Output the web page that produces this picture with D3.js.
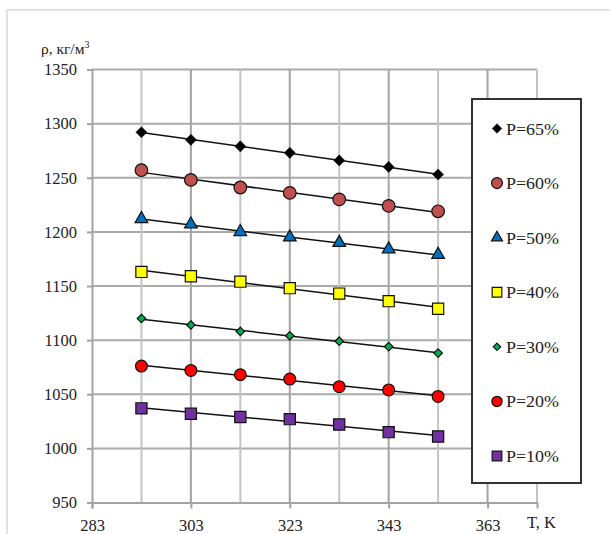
<!DOCTYPE html>
<html>
<head>
<meta charset="utf-8">
<script src="https://cdn.jsdelivr.net/npm/d3@7"></script>
<style>
  html, body { margin: 0; padding: 0; background: #fff; }
  svg { display: block; }
</style>
</head>
<body>
<svg id="chart" width="610" height="534"></svg>
<script>
// Temperature, K
const temperatures = [293, 303, 313, 323, 333, 343, 353];

// Density, kg/m3, per concentration series
const p65 = [1292, 1285, 1279, 1273, 1266, 1260, 1253];
const p60 = [1257, 1248, 1241, 1236, 1230, 1224, 1219];
const p50 = [1212, 1207, 1200, 1195, 1190, 1184, 1179];
const p40 = [1163, 1159, 1154, 1148, 1143, 1136, 1129];
const p30 = [1120, 1114, 1108, 1104, 1099, 1094, 1088];
const p20 = [1076, 1072, 1068, 1064, 1057, 1054, 1048];
const p10 = [1037, 1032, 1029, 1027, 1022, 1015, 1011];

const seriesNames = ["P=65%", "P=60%", "P=50%", "P=40%", "P=30%", "P=20%", "P=10%"];

const xTicks = [283, 303, 323, 343, 363];
const xGrid = [293, 303, 313, 323, 333, 343, 353, 363, 373];
const yTicks = [950, 1000, 1050, 1100, 1150, 1200, 1250, 1300, 1350];

const SERIF = "'Liberation Serif', 'DejaVu Serif', 'Times New Roman', serif";

// rotated square gives an even diamond
const diamond = { draw(ctx, size) { const r = Math.sqrt(size) / 2 * Math.SQRT2;
  ctx.moveTo(0, -r); ctx.lineTo(r, 0); ctx.lineTo(0, r); ctx.lineTo(-r, 0); ctx.closePath(); } };

const series = [
  { name: seriesNames[0], values: p65, shape: diamond,          size: 62,  fill: "#000000" },
  { name: seriesNames[1], values: p60, shape: d3.symbolCircle,  size: 125, fill: "#c0504d" },
  { name: seriesNames[2], values: p50, shape: d3.symbolTriangle,size: 70,  fill: "#0070c0" },
  { name: seriesNames[3], values: p40, shape: d3.symbolSquare,  size: 125, fill: "#ffff00" },
  { name: seriesNames[4], values: p30, shape: diamond,          size: 36,  fill: "#00b050" },
  { name: seriesNames[5], values: p20, shape: d3.symbolCircle,  size: 110, fill: "#ff0000" },
  { name: seriesNames[6], values: p10, shape: d3.symbolSquare,  size: 125, fill: "#7030a0" }
];

const svg = d3.select("#chart").style("font-family", SERIF);

// outer frame of the drawing
svg.append("path")
  .attr("d", "M7,534 V10 H610")
  .attr("fill", "none")
  .attr("stroke", "#d9d9d9")
  .attr("stroke-width", 1.5);

const x = d3.scaleLinear().domain([283, 373]).range([92, 537]);
const y = d3.scaleLinear().domain([950, 1350]).range([502.5, 69.5]);

// horizontal grid
svg.append("g").selectAll("line").data(yTicks.slice(1)).join("line")
  .attr("x1", x(283)).attr("x2", x(373))
  .attr("y1", d => y(d)).attr("y2", d => y(d))
  .attr("stroke", "#aaaaaa").attr("stroke-width", 2);

// vertical grid
svg.append("g").selectAll("line").data(xGrid).join("line")
  .attr("x1", d => x(d)).attr("x2", d => x(d))
  .attr("y1", y(1350)).attr("y2", y(950))
  .attr("stroke", d => xTicks.includes(d) ? "#a3a3a3" : "#c4c4c4")
  .attr("stroke-width", 2);

function styleText(sel, size) {
  sel.style("font-family", SERIF).style("font-size", size + "px").attr("fill", "#222");
}

// y axis
const yAxis = svg.append("g")
  .attr("transform", `translate(${x(283)},0)`)
  .call(d3.axisLeft(y).tickValues(yTicks).tickSize(5).tickPadding(10).tickFormat(d3.format("d")));
yAxis.select(".domain").attr("stroke", "#a3a3a3").attr("stroke-width", 2);
yAxis.selectAll(".tick line").attr("stroke", "#a3a3a3").attr("stroke-width", 2);
styleText(yAxis.selectAll("text"), 16.5);

// x axis
const xAxis = svg.append("g")
  .attr("transform", `translate(0,${y(950)})`)
  .call(d3.axisBottom(x).tickValues(xTicks).tickSize(6).tickPadding(11).tickFormat(d3.format("d")));
xAxis.select(".domain").attr("stroke", "#a3a3a3").attr("stroke-width", 2);
xAxis.selectAll(".tick line").attr("stroke", "#a3a3a3").attr("stroke-width", 2);
styleText(xAxis.selectAll("text"), 16.5);

// axis titles
const yTitle = svg.append("text").attr("x", 41).attr("y", 54);
styleText(yTitle, 15.5);
yTitle.append("tspan").text("ρ, кг/м");
yTitle.append("tspan").style("font-size", "10px").attr("dy", -6).text("3");

const xTitle = svg.append("text").attr("x", 527).attr("y", 528).text("T, K");
styleText(xTitle, 16.5);

// least-squares trend line for each series
function trend(xs, ys) {
  const mx = d3.mean(xs), my = d3.mean(ys);
  let sxy = 0, sxx = 0;
  xs.forEach((xv, i) => { sxy += (xv - mx) * (ys[i] - my); sxx += (xv - mx) ** 2; });
  const b = sxy / sxx, a = my - b * mx;
  return t => a + b * t;
}

const plot = svg.append("g");
series.forEach(s => {
  const f = trend(temperatures, s.values);
  const t0 = temperatures[0], t1 = temperatures[temperatures.length - 1];
  plot.append("line")
    .attr("x1", x(t0)).attr("y1", y(f(t0)))
    .attr("x2", x(t1)).attr("y2", y(f(t1)))
    .attr("stroke", "#111").attr("stroke-width", 1.5);
});

series.forEach(s => {
  plot.append("g").selectAll("path").data(s.values).join("path")
    .attr("d", d3.symbol().type(s.shape).size(s.size))
    .attr("transform", (d, i) => `translate(${x(temperatures[i])},${y(d)})`)
    .attr("fill", s.fill)
    .attr("stroke", "#111")
    .attr("stroke-width", s.fill === "#000000" ? 0.5 : 1.2);
});

// legend
const legend = svg.append("g");
legend.append("rect")
  .attr("x", 472).attr("y", 99)
  .attr("width", 109).attr("height", 384)
  .attr("fill", "#fff")
  .attr("stroke", "#333").attr("stroke-width", 2);

const legendY = d3.scalePoint().domain(seriesNames).range([128.5, 456]);
series.forEach(s => {
  const cy = legendY(s.name);
  legend.append("path")
    .attr("d", d3.symbol().type(s.shape).size(s.size * 0.75))
    .attr("transform", `translate(497,${cy})`)
    .attr("fill", s.fill)
    .attr("stroke", "#111")
    .attr("stroke-width", s.fill === "#000000" ? 0.5 : 1.2);
  const t = legend.append("text")
    .attr("x", 506).attr("y", cy + 6)
    .attr("textLength", 53)
    .attr("lengthAdjust", "spacingAndGlyphs")
    .text(s.name);
  styleText(t, 17);
});
</script>
</body>
</html>
